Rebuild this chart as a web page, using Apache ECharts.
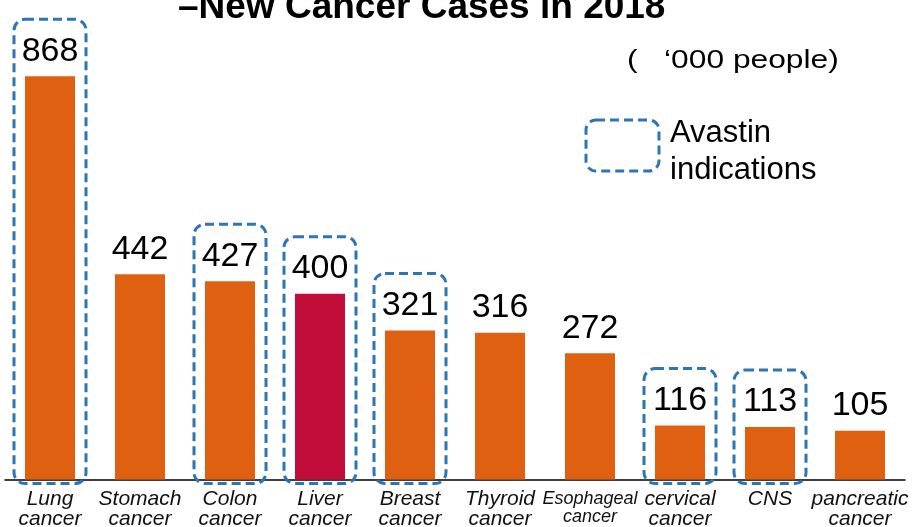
<!DOCTYPE html>
<html>
<head>
<meta charset="utf-8">
<script src="https://cdn.jsdelivr.net/npm/echarts@6/dist/echarts.min.js"></script>
<style>
  html, body { margin: 0; padding: 0; background: #fff; }
  #chart { width: 912px; height: 527px; }
</style>
</head>
<body>
<div id="chart"></div>
<script>
// data
const categories = ['Lung\ncancer', 'Stomach\ncancer', 'Colon\ncancer', 'Liver\ncancer', 'Breast\ncancer',
  'Thyroid\ncancer', 'Esophageal\ncancer', 'cervical\ncancer', 'CNS', 'pancreatic\ncancer'];
const cases = [868, 442, 427, 400, 321, 316, 272, 116, 113, 105];
const avastin = [true, false, true, true, true, false, false, true, true, false];
const highlight = 'Liver\ncancer';

const ORANGE = '#E06012';
const RED = '#C20D3B';
const BLUE = '#2E75B6';
const FONT = '"Liberation Sans", Arial, sans-serif';

const chart = echarts.init(document.getElementById('chart'));

const boxData = [];
cases.forEach((v, i) => { if (avastin[i]) boxData.push([i, v]); });

const option = {
  animation: false,
  grid: { left: 5, right: 7, top: 15, bottom: 47.5, outerBoundsMode: 'none', containLabel: false },
  textStyle: { fontFamily: FONT },
  xAxis: {
    type: 'category',
    data: categories,
    axisLine: { lineStyle: { color: '#000', width: 1.5 } },
    axisTick: { show: false },
    axisLabel: {
      interval: 0,
      margin: 10,
      color: '#111',
      fontSize: 21,
      fontStyle: 'italic',
      lineHeight: 20,
      // Esophageal label is set smaller in the original
      formatter: (v) => v.startsWith('Esophageal') ? '{s|' + v.split('\n').join('}\n{s|') + '}' : v,
      rich: { s: { fontSize: 18, fontStyle: 'italic', color: '#111', lineHeight: 18 } }
    }
  },
  yAxis: {
    type: 'value', min: 0, max: 1000, show: false,
    splitLine: { show: false }
  },
  series: [
    {
      type: 'bar',
      barWidth: 50,
      data: cases.map((v, i) => ({
        value: v,
        itemStyle: { color: categories[i] === highlight ? RED : ORANGE }
      })),
      label: {
        show: true, position: 'top', distance: 8,
        color: '#000', fontSize: 34
      }
    },
    {
      // dashed rounded boxes around Avastin indications
      type: 'custom',
      silent: true,
      data: boxData,
      z: 5,
      renderItem: (params, api) => {
        const top = api.coord([api.value(0), api.value(1)]);
        const base = api.coord([api.value(0), 0]);
        const w = api.size([1, 0])[0] * 0.8;
        const y0 = top[1] - 57;
        return {
          type: 'rect',
          shape: { x: top[0] - w / 2, y: y0, width: w, height: base[1] + 4 - y0, r: 11 },
          style: { fill: null, stroke: BLUE, lineWidth: 3, lineDash: [9, 5] }
        };
      }
    }
  ],
  graphic: [
    {
      type: 'text', x: 178, y: -11,
      style: { text: '–New Cancer Cases in 2018', fontSize: 37, fontWeight: 'bold', fill: '#000', fontFamily: FONT }
    },
    {
      type: 'text', x: 627, y: 49, scaleX: 1.27,
      style: { text: '(   ‘000 people)', fontSize: 25, fill: '#000', fontFamily: FONT }
    },
    {
      type: 'rect', x: 586, y: 120,
      shape: { width: 73, height: 51, r: 10 },
      style: { fill: null, stroke: BLUE, lineWidth: 3, lineDash: [9, 5] }
    },
    {
      type: 'text', x: 670, y: 115,
      style: { text: 'Avastin\nindications', fontSize: 31, lineHeight: 37, fill: '#000', fontFamily: FONT }
    }
  ]
};

chart.setOption(option);
</script>
</body>
</html>
